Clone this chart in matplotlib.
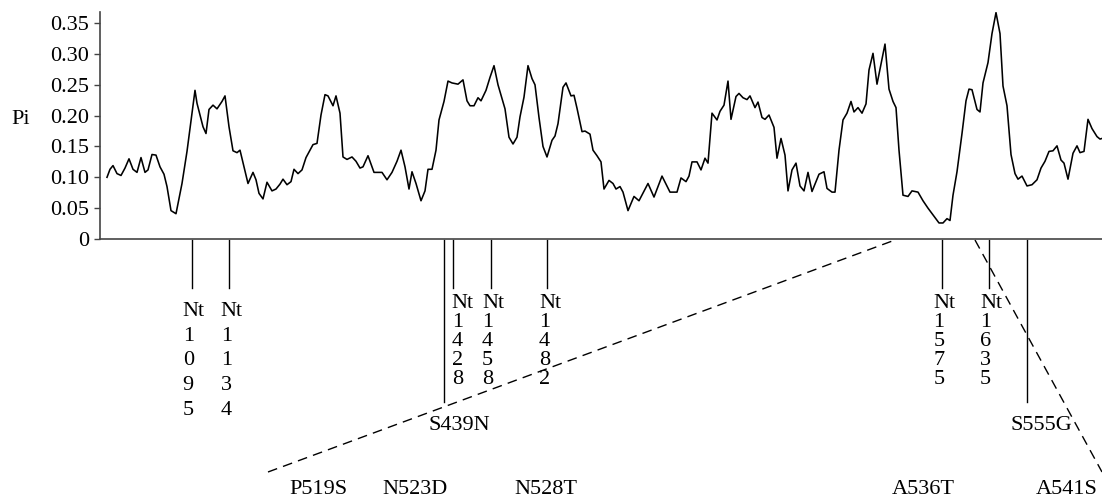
import numpy as np
import matplotlib
matplotlib.use("Agg")
from matplotlib import pyplot as plt

plt.rcParams['font.family'] = ['Liberation Serif', 'DejaVu Serif']

# window position (arbitrary units along the gene) and nucleotide diversity
pos = [7, 10, 13, 17, 21, 25, 29, 33, 37, 41, 45, 48, 52, 56, 60, 64, 67, 71, 76, 82,
       87, 95, 97, 103, 106, 109, 113, 117, 122, 125, 129, 133, 137, 140, 144, 148, 153, 156, 159, 163,
       167, 172, 176, 180, 183, 187, 191, 194, 198, 202, 206, 210, 213, 217, 221, 225, 228, 233, 236, 240,
       243, 247, 252, 256, 260, 263, 268, 274, 282, 287, 292, 297, 301, 305, 309, 312, 316, 321, 325, 328,
       332, 336, 339, 344, 348, 352, 358, 363, 367, 370, 374, 378, 381, 386, 390, 394, 398, 405, 409, 413,
       417, 420, 424, 428, 432, 435, 439, 443, 447, 452, 455, 458, 463, 466, 471, 474, 477, 482, 485, 490,
       493, 497, 501, 504, 509, 513, 516, 520, 523, 528, 534, 539, 548, 554, 562, 570, 577, 581, 586, 589,
       592, 597, 601, 605, 608, 612, 617, 620, 624, 628, 631, 636, 639, 643, 647, 650, 655, 658, 662, 665,
       669, 674, 677, 681, 685, 688, 692, 696, 700, 704, 708, 712, 719, 724, 727, 732, 735, 739, 743, 747,
       751, 754, 758, 762, 766, 769, 773, 777, 785, 789, 793, 796, 799, 803, 808, 812, 818, 823, 828, 833,
       839, 843, 847, 850, 853, 857, 862, 866, 869, 872, 877, 880, 883, 888, 892, 896, 900, 903, 907, 911,
       915, 918, 922, 927, 932, 937, 941, 945, 949, 953, 957, 961, 964, 968, 973, 977, 980, 984, 988, 992,
       997, 1000, 1002]
pi = [0.100, 0.113, 0.119, 0.106, 0.103, 0.115, 0.130, 0.113, 0.108, 0.132, 0.108, 0.112, 0.137, 0.136, 0.117, 0.105, 0.085, 0.046, 0.041, 0.090,
      0.142, 0.241, 0.220, 0.182, 0.171, 0.210, 0.217, 0.211, 0.223, 0.232, 0.182, 0.143, 0.140, 0.144, 0.117, 0.090, 0.108, 0.096, 0.074, 0.065,
      0.092, 0.078, 0.081, 0.089, 0.097, 0.088, 0.093, 0.113, 0.106, 0.112, 0.132, 0.144, 0.153, 0.155, 0.201, 0.234, 0.232, 0.216, 0.232, 0.204,
      0.133, 0.129, 0.133, 0.126, 0.115, 0.117, 0.135, 0.108, 0.108, 0.096, 0.108, 0.126, 0.144, 0.117, 0.081, 0.109, 0.090, 0.062, 0.078, 0.113,
      0.113, 0.144, 0.193, 0.223, 0.256, 0.253, 0.251, 0.258, 0.224, 0.216, 0.216, 0.229, 0.224, 0.241, 0.262, 0.281, 0.250, 0.211, 0.165, 0.154,
      0.165, 0.198, 0.230, 0.281, 0.260, 0.250, 0.197, 0.150, 0.133, 0.160, 0.167, 0.187, 0.246, 0.253, 0.232, 0.233, 0.212, 0.174, 0.175, 0.170,
      0.144, 0.135, 0.125, 0.081, 0.095, 0.090, 0.081, 0.085, 0.076, 0.046, 0.069, 0.062, 0.090, 0.068, 0.102, 0.076, 0.076, 0.099, 0.093, 0.102,
      0.125, 0.125, 0.112, 0.131, 0.123, 0.204, 0.193, 0.207, 0.217, 0.256, 0.194, 0.231, 0.236, 0.229, 0.226, 0.232, 0.213, 0.222, 0.197, 0.194,
      0.201, 0.181, 0.131, 0.163, 0.136, 0.078, 0.112, 0.123, 0.086, 0.078, 0.108, 0.077, 0.105, 0.109, 0.082, 0.076, 0.076, 0.144, 0.193, 0.204,
      0.223, 0.206, 0.213, 0.204, 0.219, 0.274, 0.301, 0.251, 0.316, 0.243, 0.223, 0.213, 0.144, 0.071, 0.069, 0.078, 0.076, 0.062, 0.050, 0.039,
      0.026, 0.026, 0.033, 0.030, 0.071, 0.109, 0.171, 0.224, 0.243, 0.242, 0.210, 0.206, 0.253, 0.286, 0.333, 0.367, 0.333, 0.248, 0.216, 0.137,
      0.106, 0.097, 0.102, 0.086, 0.088, 0.096, 0.115, 0.126, 0.142, 0.143, 0.151, 0.128, 0.123, 0.097, 0.139, 0.151, 0.140, 0.142, 0.194, 0.179,
      0.166, 0.162, 0.163]

yticks = [0, 0.05, 0.10, 0.15, 0.20, 0.25, 0.30, 0.35]
ytick_labels = ['0', '0.05', '0.10', '0.15', '0.20', '0.25', '0.30', '0.35']

# nucleotide sites marked under the axis
nt_sites = ['1095', '1134', '1428', '1458', '1482', '1575', '1635']
nt_pos = [91.7, 129, 353.3, 390.7, 447.3, 842.3, 889.3]
nt_text_pos = [82.7, 120.7, 351.7, 382, 439, 833.3, 880]
nt_tight = [False, False, True, True, True, True, True]

# amino acid changes with long markers
aa_long = ['S439N', 'S555G']
aa_long_pos = [344, 926.7]

# amino acid changes in the zoomed row
aa_row = ['P519S', 'N523D', 'N528T', 'A536T', 'A541S']
aa_row_pos = [218.5, 315, 446, 823, 967]

FS = 16

fig = plt.figure(figsize=(11.02, 5.0), dpi=100)
ax = fig.add_axes([100 / 1102, 1 - 239 / 500, 1002 / 1102, 227 / 500])
ax.plot(pos, pi, color='black', lw=1.15)
ax.set_xlim(0, 1002)
ax.set_ylim(0, 0.368)

for s in ['top', 'right']:
    ax.spines[s].set_visible(False)
for s in ['left', 'bottom']:
    ax.spines[s].set_color('#444444')
    ax.spines[s].set_linewidth(1.2)
ax.set_xticks([])
ax.set_yticks(yticks)
ax.set_yticklabels(ytick_labels, fontsize=FS)
ax.tick_params(axis='y', direction='out', length=4, width=1, color='#444444', pad=4)

fig.text(21 / 1102, 1 - 120 / 500, 'Pi', fontsize=FS, ha='center', va='center')

# pixel (from top of figure) -> data y of main axes
def py(ypx):
    return (239 - ypx) / (227 / 0.368)

for site, x, tx, tight in zip(nt_sites, nt_pos, nt_text_pos, nt_tight):
    ax.plot([x, x], [py(240), py(288)], color='black', lw=1, clip_on=False)
    ax.text(tx, py(294 if tight else 302), 'Nt\n' + '\n'.join(site), fontsize=FS,
            ha='left', va='top', linespacing=1.0 if tight else 1.41)

for lab, x in zip(aa_long, aa_long_pos):
    ax.plot([x, x], [py(240), py(402)], color='black', lw=1, clip_on=False)
    ax.text(x + 15, py(425), lab, fontsize=FS, ha='center', va='center')

for lab, x in zip(aa_row, aa_row_pos):
    ax.text(x, py(489), lab, fontsize=FS, ha='center', va='center')

ax.plot([168, 795], [py(472), py(240)], color='black', lw=1, ls=(0, (7, 4.5)), clip_on=False)
ax.plot([875, 1002], [py(240), py(472)], color='black', lw=1, ls=(0, (7, 4.5)), clip_on=False)

fig.savefig('out.png', dpi=100)
